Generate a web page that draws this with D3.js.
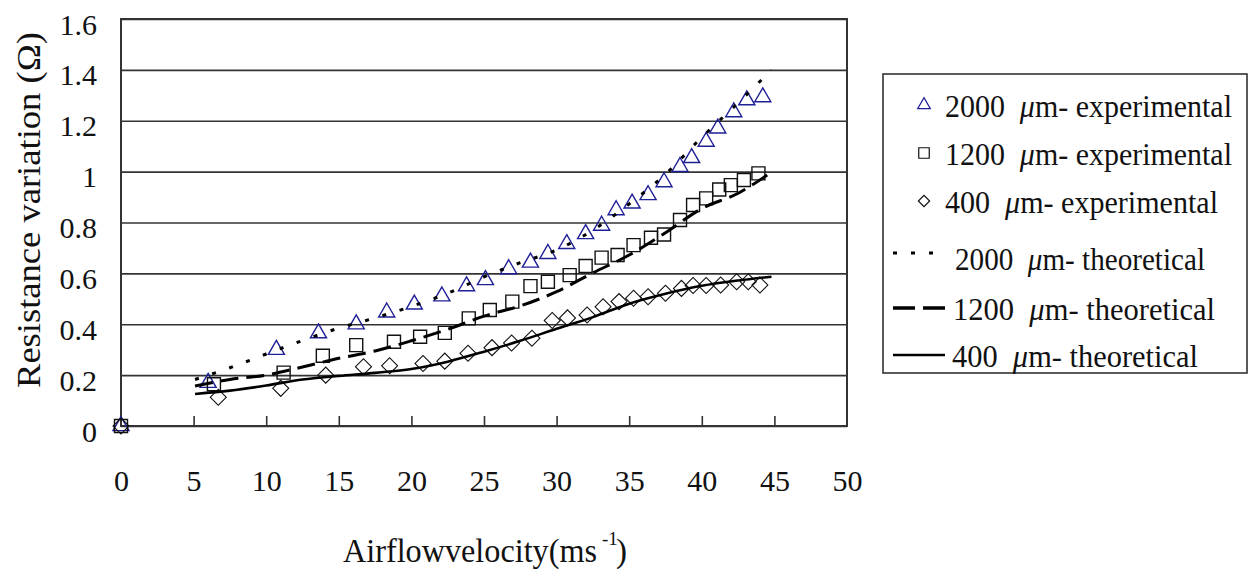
<!DOCTYPE html>
<html>

<head>
    <meta charset='utf-8'>
    <title>Resistance variation vs airflow velocity</title>
    <script type='text/javascript' src='https://cdn.jsdelivr.net/npm/d3@7/dist/d3.min.js'></script>
    <style>
        body { margin: 0; background: #fff; }
    </style>
</head>

<body>
    <svg width='1251' height='570'></svg>
    <script type='text/javascript'>

        // tick labels
        const xTicks = [0, 5, 10, 15, 20, 25, 30, 35, 40, 45, 50]
        const yTicks = [0, 0.2, 0.4, 0.6, 0.8, 1.0, 1.2, 1.4, 1.6]

        // experimental points (airflow velocity m/s, resistance variation ohm)
        const vel2000 = [0, 6.0, 10.7, 13.6, 16.2, 18.3, 20.2, 22.1, 23.8, 25.1, 26.7, 28.2, 29.4, 30.7, 32.0, 33.1, 34.1, 35.2, 36.3, 37.4, 38.5, 39.3, 40.3, 41.1, 42.2, 43.1, 44.2]
        const res2000 = [0, 0.17, 0.30, 0.365, 0.40, 0.447, 0.478, 0.51, 0.55, 0.574, 0.617, 0.643, 0.677, 0.716, 0.755, 0.788, 0.849, 0.875, 0.908, 0.959, 1.019, 1.054, 1.118, 1.17, 1.234, 1.281, 1.293]

        const vel1200 = [0, 6.4, 11.2, 13.9, 16.2, 18.8, 20.6, 22.3, 23.95, 25.4, 26.95, 28.2, 29.4, 30.9, 32.0, 33.1, 34.2, 35.3, 36.5, 37.4, 38.5, 39.4, 40.3, 41.2, 42.0, 42.9, 43.9]
        const res1200 = [0, 0.164, 0.21, 0.276, 0.318, 0.331, 0.351, 0.366, 0.423, 0.456, 0.489, 0.55, 0.567, 0.593, 0.629, 0.662, 0.672, 0.711, 0.74, 0.753, 0.81, 0.869, 0.895, 0.93, 0.947, 0.967, 0.993]

        const vel400 = [0, 6.7, 11.0, 14.1, 16.7, 18.5, 20.8, 22.3, 23.9, 25.55, 26.9, 28.3, 29.7, 30.75, 32.1, 33.2, 34.3, 35.3, 36.3, 37.5, 38.6, 39.4, 40.3, 41.3, 42.4, 43.2, 44.0]
        const res400 = [0, 0.113, 0.148, 0.2, 0.233, 0.237, 0.246, 0.255, 0.286, 0.308, 0.326, 0.345, 0.415, 0.425, 0.436, 0.469, 0.489, 0.502, 0.508, 0.522, 0.541, 0.552, 0.552, 0.554, 0.567, 0.567, 0.554]

        // theoretical curves
        const theoVel2000 = [5.1, 7.5, 10, 12.5, 15, 17.5, 20, 22.5, 25, 27.5, 30, 32.5, 35, 37.5, 40, 42.5, 44.8]
        const theoRes2000 = [0.183, 0.229, 0.283, 0.336, 0.385, 0.425, 0.47, 0.522, 0.586, 0.642, 0.692, 0.77, 0.873, 0.99, 1.135, 1.27, 1.40]
        const theoVel1200 = [5.1, 7.5, 10, 12.5, 15, 17.5, 20, 22.5, 25, 27.5, 30, 32.5, 35, 37.5, 40, 42.5, 44.6]
        const theoRes1200 = [0.157, 0.183, 0.2, 0.232, 0.266, 0.295, 0.335, 0.38, 0.432, 0.472, 0.528, 0.602, 0.672, 0.76, 0.855, 0.915, 0.99]
        const theoVel400 = [5.1, 7.5, 10, 12.5, 15, 17.5, 20, 22.5, 25, 27.5, 30, 32.5, 35, 37.5, 40, 42.5, 44.8]
        const theoRes400 = [0.126, 0.139, 0.159, 0.183, 0.197, 0.209, 0.224, 0.253, 0.292, 0.335, 0.382, 0.428, 0.481, 0.52, 0.551, 0.572, 0.587]

        const legendLabels = ['2000', '1200', '400', '2000', '1200', '400']
        const legendKinds = ['experimental', 'experimental', 'experimental', 'theoretical', 'theoretical', 'theoretical']

        // pick the first serif face that really is installed
        function pickFont(names) {
            const ctx = document.createElement('canvas').getContext('2d')
            const probe = 'Resistance variation 0123456789'
            ctx.font = '40px monospace'
            const mono = ctx.measureText(probe).width
            for (const n of names) {
                ctx.font = `40px "${n}", monospace`
                if (Math.abs(ctx.measureText(probe).width - mono) > 0.5) return `"${n}"`
            }
            return 'serif'
        }
        const serif = pickFont(['Liberation Serif', 'DejaVu Serif', 'Noto Serif', 'Times New Roman', 'Tinos', 'FreeSerif', 'Nimbus Roman'])

        const svg = d3.select('svg')
        const plot = { left: 121, right: 847, top: 19, bottom: 426 }
        const ink = '#333'
        const blue = '#1f1f96'

        const x = d3.scaleLinear().domain([0, 50]).range([plot.left, plot.right])
        const y = d3.scaleLinear().domain([0, 1.6]).range([plot.bottom, plot.top])
        const fmt = d => String(+d.toFixed(1))

        // gridlines
        svg.append('g').attr('transform', `translate(${plot.left},0)`)
            .call(d3.axisLeft(y).tickValues(yTicks).tickSize(-(plot.right - plot.left)).tickFormat(''))
            .call(g => g.select('.domain').remove())
            .selectAll('line').attr('stroke', ink).attr('stroke-width', 1.6)

        // y tick labels
        svg.append('g').attr('transform', `translate(${plot.left},0)`)
            .call(d3.axisLeft(y).tickValues(yTicks).tickSize(0).tickPadding(24).tickFormat(fmt))
            .call(g => g.select('.domain').remove())
            .attr('font-family', serif)
            .selectAll('text').attr('font-size', 30).attr('dy', '0.5em').attr('fill', '#111')

        // x ticks (inside) and labels
        svg.append('g').attr('transform', `translate(0,${plot.bottom})`)
            .call(d3.axisBottom(x).tickValues(xTicks.slice(1, -1)).tickSize(-10).tickFormat(''))
            .call(g => g.select('.domain').remove())
            .selectAll('line').attr('stroke', ink).attr('stroke-width', 1.6)

        svg.append('g').attr('transform', `translate(0,${plot.bottom})`)
            .call(d3.axisBottom(x).tickValues(xTicks).tickSize(0).tickPadding(44).tickFormat(fmt))
            .call(g => g.select('.domain').remove())
            .attr('font-family', serif)
            .selectAll('text').attr('font-size', 30).attr('fill', '#111')

        // plot frame
        svg.append('rect')
            .attr('x', plot.left).attr('y', plot.top)
            .attr('width', plot.right - plot.left).attr('height', plot.bottom - plot.top)
            .attr('fill', 'none').attr('stroke', ink).attr('stroke-width', 2)

        // markers
        const tri = d3.symbol().type(d3.symbolTriangle)
        const sq = d3.symbol().type(d3.symbolSquare)
        const markers = [
            { xs: vel2000, ys: res2000, path: tri.size(112)(), rot: 0, color: blue, w: 1.4 },
            { xs: vel1200, ys: res1200, path: sq.size(169)(), rot: 0, color: '#111', w: 1.4 },
            { xs: vel400, ys: res400, path: sq.size(128)(), rot: 45, color: '#111', w: 1.1 }
        ]
        markers.forEach(m => {
            svg.append('g').selectAll('path').data(d3.zip(m.xs, m.ys)).enter().append('path')
                .attr('d', m.path)
                .attr('transform', d => `translate(${x(d[0])},${y(d[1])}) rotate(${m.rot})`)
                .attr('fill', 'none').attr('stroke', m.color).attr('stroke-width', m.w)
        })

        // theoretical curves
        const line = d3.line().x(d => x(d[0])).y(d => y(d[1])).curve(d3.curveMonotoneX)
        const curves = [
            { xs: theoVel2000, ys: theoRes2000, dash: '4,14', w: 3 },
            { xs: theoVel1200, ys: theoRes1200, dash: '18,8', w: 3 },
            { xs: theoVel400, ys: theoRes400, dash: null, w: 2.6 }
        ]
        curves.forEach(c => {
            svg.append('path')
                .attr('d', line(d3.zip(c.xs, c.ys)))
                .attr('fill', 'none').attr('stroke', '#000')
                .attr('stroke-width', c.w).attr('stroke-dasharray', c.dash)
        })

        // axis titles
        svg.append('text').attr('x', 343).attr('y', 562).attr('font-size', 33)
            .attr('font-family', serif).attr('fill', '#111')
            .attr('textLength', 254).attr('lengthAdjust', 'spacingAndGlyphs')
            .text('Airflowvelocity(ms')
        svg.append('text').attr('x', 602).attr('y', 545).attr('font-size', 19)
            .attr('font-family', serif).attr('fill', '#111').text('-1')
        svg.append('text').attr('x', 616).attr('y', 562).attr('font-size', 33)
            .attr('font-family', serif).attr('fill', '#111').text(')')

        svg.append('text').attr('transform', 'translate(40,388) rotate(-90)')
            .attr('font-family', serif).attr('fill', '#111')
            .attr('font-size', 34).attr('textLength', 356).attr('lengthAdjust', 'spacingAndGlyphs')
            .text('Resistance variation (Ω)')

        // legend
        svg.append('rect').attr('x', 883).attr('y', 74).attr('width', 364).attr('height', 299)
            .attr('fill', '#fff').attr('stroke', ink).attr('stroke-width', 1.6)

        const rowBase = [117, 165, 213, 270, 320, 367]
        const rowX = [945, 945, 945, 955, 953, 952]
        const rowLen = [287, 287, 273, 250, 262, 246]
        const keySymbols = [tri.size(70)(), sq.size(110)(), sq.size(64)()]

        legendLabels.forEach((lab, i) => {
            const t = svg.append('text')
                .attr('transform', `translate(${rowX[i]},${rowBase[i]}) scale(1,1.15)`)
                .attr('font-family', serif).attr('fill', '#111')
                .attr('font-size', 28).attr('textLength', rowLen[i]).attr('lengthAdjust', 'spacingAndGlyphs')
            t.append('tspan').text(lab + '\u00a0 ')
            t.append('tspan').attr('font-style', 'italic').text('\u03bc')
            t.append('tspan').text('m- ' + legendKinds[i])

            const cy = rowBase[i] - 12
            if (i < 3) {
                svg.append('path').attr('d', keySymbols[i])
                    .attr('transform', `translate(924,${cy}) rotate(${i === 2 ? 45 : 0})`)
                    .attr('fill', 'none').attr('stroke', i === 0 ? blue : '#111').attr('stroke-width', 1.2)
            } else {
                const c = curves[i - 3]
                svg.append('line').attr('x1', 893).attr('x2', 945).attr('y1', cy - (i === 3 ? 5 : 0)).attr('y2', cy - (i === 3 ? 5 : 0))
                    .attr('stroke', '#000').attr('stroke-width', c.w + (i === 4 ? 0.6 : 0))
                    .attr('stroke-dasharray', i === 3 ? '4,14' : (i === 4 ? '22,8' : null))
            }
        })
    </script>
</body>

</html>
